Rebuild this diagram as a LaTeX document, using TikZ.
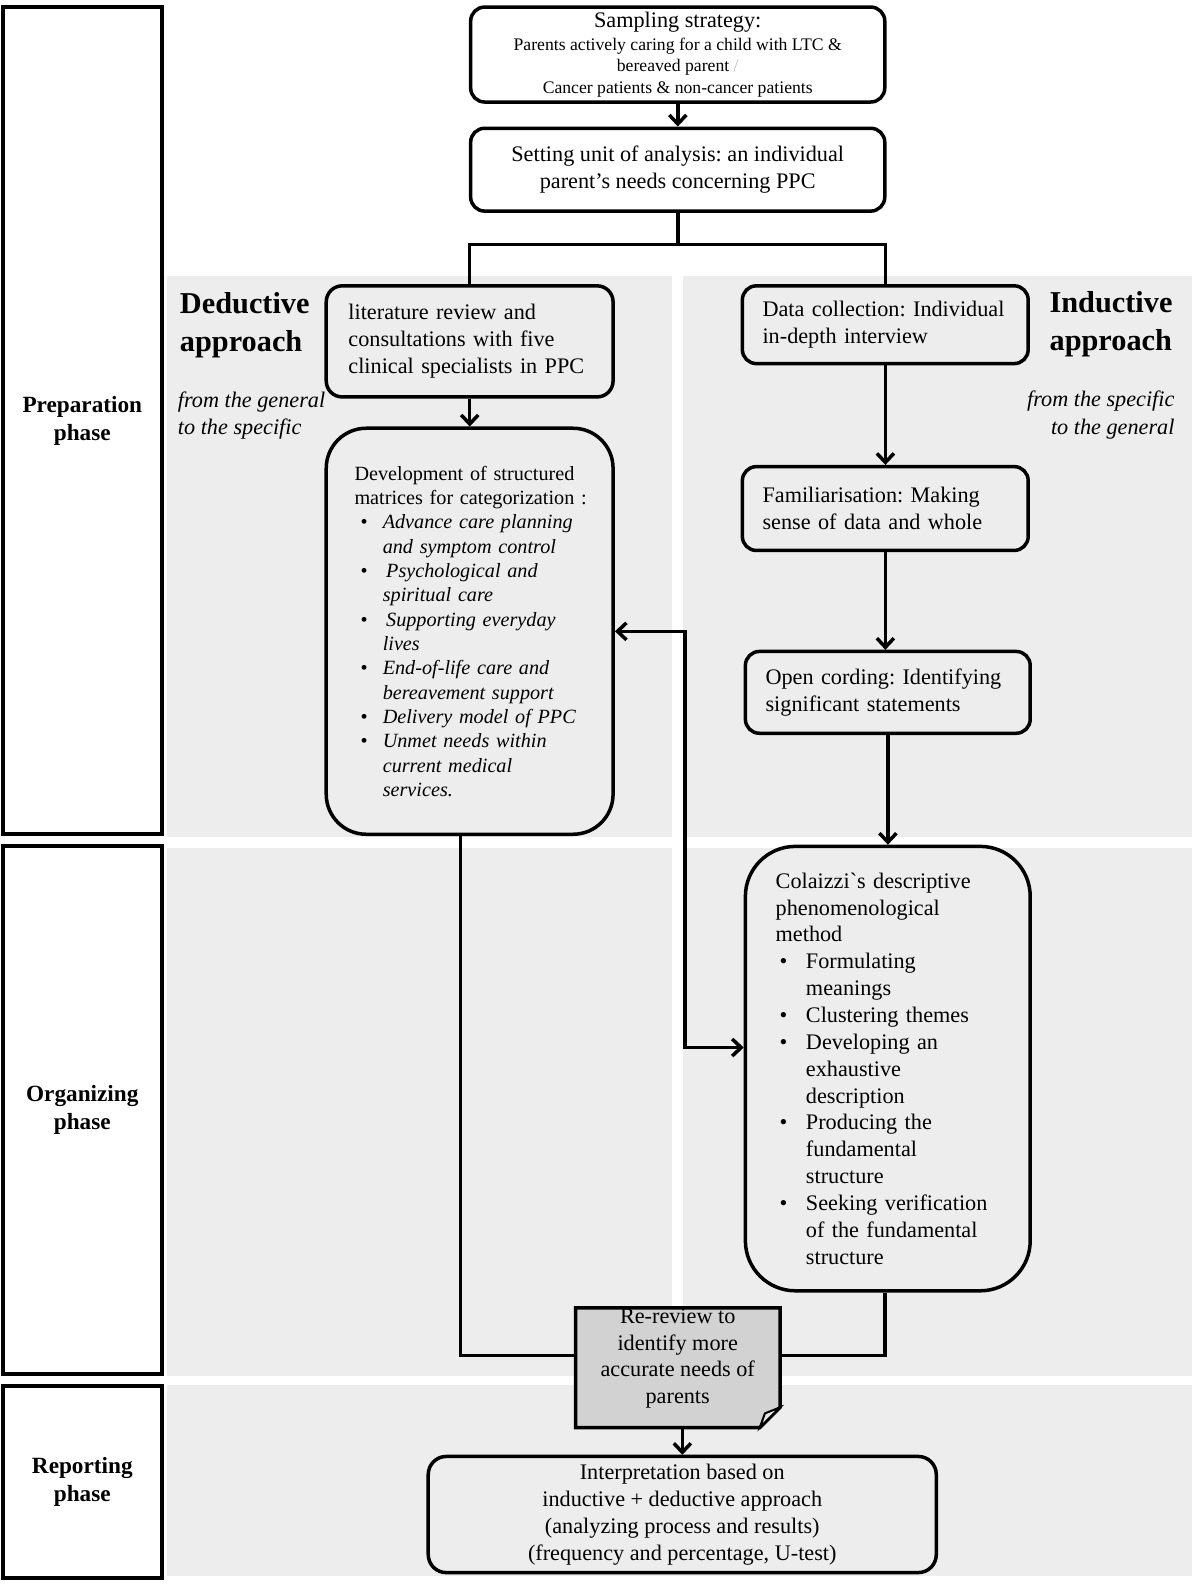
\documentclass[tikz,border=0pt]{standalone}
\usepackage{fontspec}
\setmainfont{Liberation Serif}
\usetikzlibrary{arrows.meta}
\definecolor{panel}{RGB}{237,237,237}
\definecolor{rrfill}{RGB}{210,210,210}
\definecolor{foldfill}{RGB}{230,230,230}
\newcommand\fm{\fontsize{22}{26.6}\selectfont}
\newcommand\fss{\fontsize{17.5}{21.5}\selectfont}
\newcommand\fdv{\fontsize{20}{24.1}\selectfont}
\newcommand\bdv[1]{\makebox[28pt][l]{\hspace*{6pt}\textbullet}\textit{#1}}
\newcommand\cdv[1]{\hspace*{28pt}\textit{#1}}
\newcommand\bcz[1]{\makebox[30pt][l]{\hspace*{4pt}\textbullet}#1}
\newcommand\ccz[1]{\hspace*{30pt}#1}
\begin{document}
\frenchspacing
\begin{tikzpicture}[x=1pt,y=-1pt,scale=1.01,every node/.append style={transform shape},
  ln/.style={line width=3.5pt},
  arr/.style={ln,-{Straight Barb[length=9pt,width=17pt]}},
  darr/.style={ln,{Straight Barb[length=9pt,width=17pt]}-{Straight Barb[length=9pt,width=17pt]}},
  bx/.style={draw,line width=3.5pt,rounded corners=#1,inner ysep=0pt},
  bx/.default=14pt,
  phase/.style={draw,line width=3.8pt,fill=white,minimum width=157pt,align=center,
     font=\fontsize{23}{28}\selectfont\bfseries},
  txtl/.style={align=left,font=\fm},
  lab/.style={inner sep=0pt,font=\fontsize{30}{38}\selectfont\bfseries},
  sublab/.style={inner sep=0pt,font=\fontsize{22}{27}\selectfont\itshape}]
\useasboundingbox (0,0) rectangle (1188.1,1569.3);
\fill[white] (0,0) rectangle (1188.1,1569.3);
% panels
\fill[panel] (165,273) rectangle (665,829);
\fill[panel] (676,273) rectangle (1180,829);
\fill[panel] (165,840) rectangle (665,1362);
\fill[panel] (676,840) rectangle (1180,1362);
\fill[panel] (165,1371) rectangle (1180,1560);
% phase boxes
\node[phase,minimum height=819pt] (ph1) at (81.5,416.5) {Preparation\\phase};
\node[phase,minimum height=522pt] (ph2) at (81.5,1099) {Organizing\\phase};
\node[phase,minimum height=190pt] (ph3) at (81.5,1467) {Reporting\\phase};
% approach labels
\node[lab,anchor=west,align=left] (dedl) at (178,322) {Deductive\\approach};
\node[sublab,anchor=west,align=left] (deds) at (176,411.5) {from the general\\to the specific};
\node[lab,anchor=west,align=left] (indl) at (1039,321) {Inductive\\approach};
\node[sublab,anchor=east,align=right] (inds) at (1163,411) {from the specific\\to the general};
% boxes
\node[bx,fill=white,minimum width=410pt,minimum height=94pt,align=center,font=\fss] (s1) at (671,54)
  {\fontsize{22}{23}\selectfont Sampling strategy:\\[1.5pt]
   \fss Parents actively caring for a child with LTC \&\\
   \fss bereaved parent {\color{gray!50}/}\\
   \fss Cancer patients \& non-cancer patients};
\node[bx,fill=white,minimum width=410pt,minimum height=82pt,align=center,font=\fm] (s2) at (671,168)
  {Setting unit of analysis: an individual\\parent's needs concerning PPC};
\node[bx=16pt,minimum width=284pt,minimum height=110pt,inner xsep=22pt,text width=240pt,txtl] (lit) at (465,338)
  {literature review and\\consultations with five\\clinical specialists in PPC};
\node[bx=40pt,minimum width=284pt,minimum height=402pt,inner xsep=28pt,text width=228pt,align=left,font=\fdv] (dev) at (465,625)
  {\mbox{Development of structured}\\
   \mbox{matrices for categorization :}\\
   \bdv{Advance care planning}\\
   \cdv{and symptom control}\\
   \bdv{\,Psychological and}\\
   \cdv{spiritual care}\\
   \bdv{\,Supporting everyday}\\
   \cdv{lives}\\
   \bdv{End-of-life care and}\\
   \cdv{bereavement support}\\
   \bdv{Delivery model of PPC}\\
   \bdv{Unmet needs within}\\
   \cdv{current medical}\\
   \cdv{services.}};
\node[bx,minimum width=283pt,minimum height=77pt,inner xsep=20pt,text width=243pt,txtl] (data) at (876.5,321.5)
  {Data collection: Individual\\in-depth interview};
\node[bx,minimum width=283pt,minimum height=83pt,inner xsep=20pt,text width=243pt,txtl] (fam) at (876.5,503.5)
  {Familiarisation: Making\\sense of data and whole};
\node[bx,minimum width=282pt,minimum height=81pt,inner xsep=20pt,text width=242pt,txtl] (opn) at (879,685.5)
  {Open cording: Identifying\\significant statements};
\node[bx=50pt,minimum width=282pt,minimum height=440pt,inner xsep=30pt,text width=222pt,txtl] (col) at (879,1058)
  {Colaizzi\textasciigrave s descriptive\\
   phenomenological\\
   method\\
   \bcz{Formulating}\\
   \ccz{meanings}\\
   \bcz{Clustering themes}\\
   \bcz{Developing an}\\
   \ccz{exhaustive}\\
   \ccz{description}\\
   \bcz{Producing the}\\
   \ccz{fundamental}\\
   \ccz{structure}\\
   \bcz{Seeking verification}\\
   \ccz{of the fundamental}\\
   \ccz{structure}};
\node[bx=18pt,minimum width=503pt,minimum height=115pt,align=center,font=\fm] (interp) at (675.5,1499.5)
  {Interpretation based on\\inductive + deductive approach\\(analyzing process and results)\\(frequency and percentage, U-test)};
% connectors
\coordinate (jt) at (671,242);
\coordinate (jm1) at (678,625);
\coordinate (jm2) at (678,1037);
\draw[arr] (s1.south) -- (s2.north);
\draw[ln] (s2.south) -- (jt);
\draw[ln] (lit.north) -- (lit.north |- jt) -- (data.north |- jt) -- (data.north);
\draw[arr] (lit.south) -- (dev.north);
\draw[arr] (data.south) -- (fam.north);
\draw[arr] (fam.south) -- (fam.south |- opn.north);
\draw[arr] (opn.south) -- (col.north);
\draw[darr] (dev.east) -- (jm1) -- (jm2) -- (col.west |- jm2);
% re-review box
\node[minimum width=202pt,minimum height=118pt,inner sep=0pt] (rr) at (671,1354) {};
\draw[ln] ([xshift=-9pt]dev.south) |- ([yshift=12pt]rr.west);
\draw[ln] ([xshift=-3pt]col.south) |- ([yshift=12pt]rr.east);
\draw[line width=3.5pt,fill=rrfill,line join=miter] (rr.north west) -- (rr.north east) -- ([yshift=20pt]rr.south east)
   -- ([xshift=-20pt]rr.south east) -- (rr.south west) -- cycle;
\draw[line width=2pt,fill=foldfill] ([xshift=-20pt]rr.south east) -- ([xshift=-15pt,yshift=14pt]rr.south east)
   -- ([yshift=20pt]rr.south east) -- cycle;
\node[align=center,font=\fm,inner sep=0pt] (rrt) at (671,1345)
  {Re-review to\\identify more\\accurate needs of\\parents};
\draw[arr] (rr.south -| interp.north) -- (interp.north);
\end{tikzpicture}
\end{document}
